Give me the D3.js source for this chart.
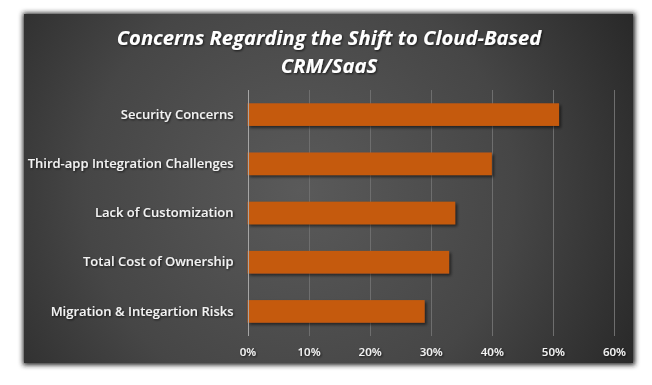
<!DOCTYPE html>
<html>
<head>
<meta charset="utf-8">
<script src="https://cdn.jsdelivr.net/npm/d3@7"></script>
<style>
  body { margin: 0; background: #fff; }
  svg { display: block; }
</style>
</head>
<body>
<div id="chart-area"><svg></svg></div>
<script>
const chartSize = { width: 652, height: 385 };
const panel = { x: 24, y: 14, width: 609, height: 349 };
const plot = { left: 247.5, right: 614, top: 90, bottom: 336 };
const labelFont = "'Open Sans', Lato, sans-serif";

const titleLines = ["Concerns Regarding the Shift to Cloud-Based", "CRM/SaaS"];
const categories = [
  "Security Concerns",
  "Third-app Integration Challenges",
  "Lack of Customization",
  "Total Cost of Ownership",
  "Migration & Integartion Risks"
];
const values = [0.51, 0.40, 0.34, 0.33, 0.29];
const tickValues = [0, 0.1, 0.2, 0.3, 0.4, 0.5, 0.6];

const svg = d3
  .select("#chart-area svg")
  .attr("width", chartSize.width)
  .attr("height", chartSize.height);

const defs = svg.append("defs");

const bg = defs
  .append("radialGradient")
  .attr("id", "bg")
  .attr("gradientUnits", "userSpaceOnUse")
  .attr("cx", 300)
  .attr("cy", 190)
  .attr("r", 390);
bg.append("stop").attr("offset", 0).attr("stop-color", "#5a5a5a");
bg.append("stop").attr("offset", 0.55).attr("stop-color", "#464646");
bg.append("stop").attr("offset", 1).attr("stop-color", "#262626");

defs
  .append("filter")
  .attr("id", "soft")
  .attr("x", "-10%")
  .attr("y", "-10%")
  .attr("width", "120%")
  .attr("height", "120%")
  .append("feGaussianBlur")
  .attr("stdDeviation", 2.5);

const barShadow = defs
  .append("filter")
  .attr("id", "barShadow")
  .attr("x", "-10%")
  .attr("y", "-30%")
  .attr("width", "120%")
  .attr("height", "170%");
barShadow
  .append("feDropShadow")
  .attr("dx", 2)
  .attr("dy", 2)
  .attr("stdDeviation", 1.5)
  .attr("flood-color", "#000")
  .attr("flood-opacity", 0.55);

const textShadow = defs
  .append("filter")
  .attr("id", "textShadow")
  .attr("x", "-10%")
  .attr("y", "-30%")
  .attr("width", "120%")
  .attr("height", "170%");
textShadow
  .append("feDropShadow")
  .attr("dx", 1)
  .attr("dy", 1)
  .attr("stdDeviation", 0.8)
  .attr("flood-color", "#000")
  .attr("flood-opacity", 0.7);

// panel with soft edge shadow
svg
  .append("rect")
  .attr("x", panel.x - 1)
  .attr("y", panel.y - 1)
  .attr("width", panel.width + 3)
  .attr("height", panel.height + 3)
  .attr("fill", "#222")
  .attr("filter", "url(#soft)");

svg
  .append("rect")
  .attr("x", panel.x)
  .attr("y", panel.y)
  .attr("width", panel.width)
  .attr("height", panel.height)
  .attr("fill", "url(#bg)");

// title
svg
  .append("text")
  .attr("class", "title")
  .attr("text-anchor", "middle")
  .attr("fill", "#fff")
  .attr("font-family", labelFont)
  .attr("font-size", 20.2)
  .attr("font-weight", "bold")
  .attr("font-style", "italic")
  .attr("filter", "url(#textShadow)")
  .selectAll("tspan")
  .data(titleLines)
  .join("tspan")
  .attr("x", 329)
  .attr("y", (d, i) => 44.5 + i * 28)
  .text(d => d);

const x = d3
  .scaleLinear()
  .domain([0, 0.6])
  .range([plot.left, plot.right]);

const y = d3
  .scaleBand()
  .domain(categories)
  .range([plot.top, plot.bottom])
  .paddingInner(0.54)
  .paddingOuter(0.27);

const g = svg.append("g");

// gridlines
g.append("g")
  .selectAll("line")
  .data(tickValues.slice(1))
  .join("line")
  .attr("x1", d => Math.round(x(d)) + 0.5)
  .attr("x2", d => Math.round(x(d)) + 0.5)
  .attr("y1", plot.top)
  .attr("y2", plot.bottom)
  .attr("stroke", "#6e6e6e")
  .attr("stroke-width", 1);

// bars
g.append("g")
  .selectAll("rect")
  .data(values)
  .join("rect")
  .attr("x", x(0))
  .attr("y", (d, i) => y(categories[i]))
  .attr("width", d => x(d) - x(0))
  .attr("height", y.bandwidth())
  .attr("fill", "#c55a11")
  .attr("filter", "url(#barShadow)");

// value axis line at 0
g.append("line")
  .attr("x1", Math.round(x(0)) + 0.5)
  .attr("x2", Math.round(x(0)) + 0.5)
  .attr("y1", plot.top)
  .attr("y2", plot.bottom)
  .attr("stroke", "#a6a6a6")
  .attr("stroke-width", 1);

// category labels
const yAxis = d3.axisLeft(y).tickSize(0).tickPadding(14);
const yG = g
  .append("g")
  .attr("transform", `translate(${x(0)},0)`)
  .call(yAxis);
yG.select(".domain").remove();
yG.selectAll("text")
  .attr("fill", "#f2f2f2")
  .attr("font-family", labelFont)
  .attr("font-size", 13)
  .attr("font-weight", 600)
  .attr("filter", "url(#textShadow)");

// percent tick labels
const xAxis = d3
  .axisBottom(x)
  .tickValues(tickValues)
  .tickFormat(d3.format(".0%"))
  .tickSize(0)
  .tickPadding(12);
const xG = g
  .append("g")
  .attr("transform", `translate(0,${plot.bottom})`)
  .call(xAxis);
xG.select(".domain").remove();
xG.selectAll("text")
  .attr("fill", "#f2f2f2")
  .attr("font-family", labelFont)
  .attr("font-size", 11.5)
  .attr("font-weight", 600)
  .attr("filter", "url(#textShadow)");
</script>
</body>
</html>
